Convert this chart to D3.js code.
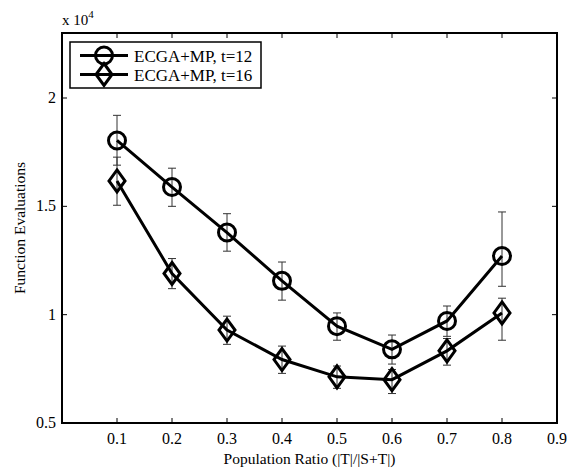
<!DOCTYPE html>
<html><head><meta charset="utf-8">
<script src="https://cdn.jsdelivr.net/npm/d3@7"></script>
<style>body{margin:0;background:#fff}svg{display:block}text{font-family:"Liberation Serif","Times New Roman",serif;fill:#000}</style>
</head><body><svg id="c" width="567" height="470"></svg>
<script>
const xValues = [0.1,0.2,0.3,0.4,0.5,0.6,0.7,0.8];
const t12 = [1.804,1.589,1.379,1.156,0.947,0.840,0.971,1.271];
const t12Hi = [1.920,1.676,1.466,1.243,1.008,0.906,1.040,1.474];
const t12Lo = [1.690,1.500,1.293,1.067,0.882,0.772,0.900,1.131];
const t16 = [1.617,1.190,0.929,0.793,0.713,0.700,0.833,1.008];
const t16Hi = [1.727,1.259,0.993,0.855,0.763,0.747,0.890,1.076];
const t16Lo = [1.505,1.120,0.863,0.729,0.660,0.636,0.767,0.882];
const xTicks = [0.1,0.2,0.3,0.4,0.5,0.6,0.7,0.8,0.9];
const yTicks = [0.5,1,1.5,2];
const seriesNames = ["ECGA+MP, t=12","ECGA+MP, t=16"];

const svg = d3.select("#c");
const L=62,R=557,T=33,B=423;
const x = d3.scaleLinear().domain([0,0.9]).range([L,R]);
const y = d3.scaleLinear().domain([0.5,2.3]).range([B,T]);

const g = svg.append("g");
const tl = 5;
xTicks.forEach(v=>{
  g.append("line").attr("x1",x(v)).attr("x2",x(v)).attr("y1",B).attr("y2",B-tl).attr("stroke","#000");
  g.append("line").attr("x1",x(v)).attr("x2",x(v)).attr("y1",T).attr("y2",T+tl).attr("stroke","#000");
  g.append("text").attr("x",x(v)).attr("y",B+21).attr("text-anchor","middle").attr("font-size",16).text(d3.format(".1f")(v));
});
yTicks.forEach(v=>{
  g.append("line").attr("x1",L).attr("x2",L+tl).attr("y1",y(v)).attr("y2",y(v)).attr("stroke","#000");
  g.append("line").attr("x1",R).attr("x2",R-tl).attr("y1",y(v)).attr("y2",y(v)).attr("stroke","#000");
  g.append("text").attr("x",L-6).attr("y",y(v)+5).attr("text-anchor","end").attr("font-size",16).text(d3.format("~g")(v));
});
g.append("rect").attr("x",L).attr("y",T).attr("width",R-L).attr("height",B-T).attr("fill","none").attr("stroke","#000").attr("stroke-width",2);

const ex = g.append("text").attr("x",L).attr("y",25).attr("font-size",15);
ex.append("tspan").text("x 10");
ex.append("tspan").attr("dy",-7).attr("font-size",11).text("4");

g.append("text").attr("x",(L+R)/2).attr("y",B+41).attr("text-anchor","middle").attr("font-size",15.5).text("Population Ratio (|T|/|S+T|)");
g.append("text").attr("transform",`translate(25,${(T+B)/2}) rotate(-90)`).attr("text-anchor","middle").attr("font-size",15.5).text("Function Evaluations");

const line = d3.line().x(d=>x(d[0])).y(d=>y(d[1]));
function diamond(sel){ sel.attr("d","M0,-11L8,0L0,11L-8,0Z"); }

function drawSeries(vals,hi,lo,shape){
  const pts = xValues.map((v,i)=>[v,vals[i]]);
  xValues.forEach((v,i)=>{
    const cx=x(v), cw=4;
    g.append("line").attr("x1",cx).attr("x2",cx).attr("y1",y(hi[i])).attr("y2",y(lo[i])).attr("stroke","#333").attr("stroke-width",1);
    g.append("line").attr("x1",cx-cw).attr("x2",cx+cw).attr("y1",y(hi[i])).attr("y2",y(hi[i])).attr("stroke","#333").attr("stroke-width",1);
    g.append("line").attr("x1",cx-cw).attr("x2",cx+cw).attr("y1",y(lo[i])).attr("y2",y(lo[i])).attr("stroke","#333").attr("stroke-width",1);
  });
  g.append("path").datum(pts).attr("d",line).attr("fill","none").attr("stroke","#000").attr("stroke-width",3);
  pts.forEach(p=>{
    if(shape==="circle") g.append("circle").attr("cx",x(p[0])).attr("cy",y(p[1])).attr("r",8.5).attr("fill","none").attr("stroke","#000").attr("stroke-width",3);
    else g.append("path").attr("transform",`translate(${x(p[0])},${y(p[1])})`).call(diamond).attr("fill","none").attr("stroke","#000").attr("stroke-width",3);
  });
}
drawSeries(t12,t12Hi,t12Lo,"circle");
drawSeries(t16,t16Hi,t16Lo,"diamond");

const lg = svg.append("g");
lg.append("rect").attr("x",70).attr("y",42).attr("width",191).attr("height",46).attr("fill","#fff").attr("stroke","#000").attr("stroke-width",1.5);
seriesNames.forEach((n,i)=>{
  const yy = 55.5 + i*19;
  lg.append("line").attr("x1",80).attr("x2",128).attr("y1",yy).attr("y2",yy).attr("stroke","#000").attr("stroke-width",3);
  if(i===0) lg.append("circle").attr("cx",104).attr("cy",yy).attr("r",8.5).attr("fill","none").attr("stroke","#000").attr("stroke-width",3);
  else lg.append("path").attr("transform",`translate(104,${yy})`).call(diamond).attr("fill","none").attr("stroke","#000").attr("stroke-width",3);
  lg.append("text").attr("x",134).attr("y",yy+6).attr("font-size",17).text(n);
});
</script></body></html>
